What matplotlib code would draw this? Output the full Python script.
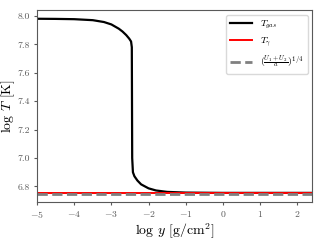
import numpy as np
import matplotlib
matplotlib.use("Agg")
import matplotlib.pyplot as plt

plt.rcParams['font.family'] = 'serif'
plt.rcParams['font.serif'] = ['cmr10', 'DejaVu Serif']
plt.rcParams['mathtext.fontset'] = 'cm'
plt.rcParams['axes.formatter.use_mathtext'] = True

logy_gas = [-5.0, -4.5, -4.0, -3.5, -3.2, -3.0, -2.8, -2.7, -2.6, -2.52, -2.47, -2.45, -2.44,
            -2.42, -2.38, -2.3, -2.2, -2.0, -1.8, -1.5, -1.0, 0.0, 2.4]
logT_gas = [7.98, 7.979, 7.977, 7.97, 7.957, 7.94, 7.91, 7.89, 7.865, 7.84, 7.82, 7.78, 7.0,
            6.9, 6.872, 6.842, 6.815, 6.787, 6.772, 6.762, 6.757, 6.755, 6.755]
logy_rad = [-5.0, 2.4]
logT_rad = [6.757, 6.757]
logT_u = [6.747, 6.747]

fig, ax = plt.subplots(figsize=(3.14, 2.45), dpi=100)
ax.plot(logy_gas, logT_gas, color='black', lw=1.6, label=r'$T_{gas}$')
ax.plot(logy_rad, logT_rad, color='red', lw=1.4, label=r'$T_{\gamma}$')
ax.plot(logy_rad, logT_u, color='gray', lw=2, ls='--', label=r'$(\frac{U_1+U_2}{a})^{1/4}$')

ax.set_xlim(-5, 2.41)
ax.set_ylim(6.69, 8.043)
ax.set_xticks([-5, -4, -3, -2, -1, 0, 1, 2])
ax.set_yticks([6.8, 7.0, 7.2, 7.4, 7.6, 7.8, 8.0])
ax.yaxis.set_major_formatter(matplotlib.ticker.FormatStrFormatter('%.1f'))
ax.tick_params(labelsize=7, length=2.5, pad=2.5, colors='0.35')
for s in ax.spines.values():
    s.set_color('0.35')
ax.set_xlabel(r'log $y$ [g/cm$^2$]', fontsize=10, labelpad=1)
ax.set_ylabel(r'log $T$ [K]', fontsize=10)
ax.yaxis.set_label_coords(-0.072, 0.5)
ax.legend(loc='upper right', fontsize=7, handlelength=2.3, framealpha=1, edgecolor='0.85')

fig.subplots_adjust(left=0.118, right=0.995, top=0.96, bottom=0.175)
fig.savefig('out.png', dpi=100)
